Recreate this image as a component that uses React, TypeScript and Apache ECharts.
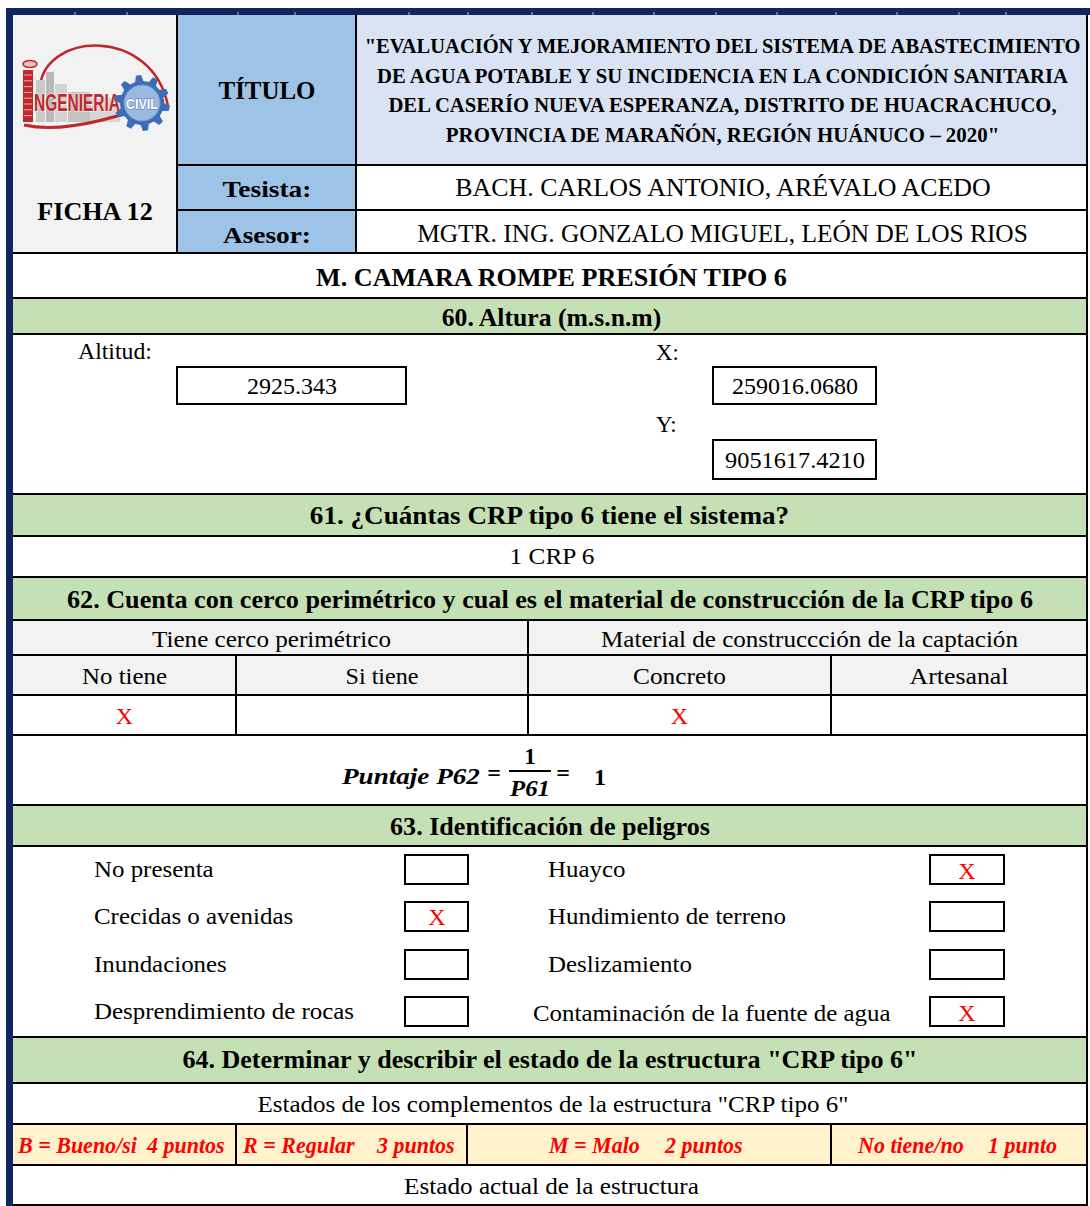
import React, { useEffect, useRef } from "react";
import * as echarts from "echarts";

// ---------- data ----------
const fichaLabel = "FICHA 12";
const headerLabels = ["TÍTULO", "Tesista:", "Asesor:"];
const titleLines = [
  "\"EVALUACIÓN Y MEJORAMIENTO DEL SISTEMA DE ABASTECIMIENTO",
  "DE AGUA POTABLE Y SU INCIDENCIA EN LA CONDICIÓN SANITARIA",
  "DEL CASERÍO NUEVA ESPERANZA, DISTRITO DE HUACRACHUCO,",
  "PROVINCIA DE MARAÑÓN, REGIÓN HUÁNUCO – 2020\"",
];
const thesisAuthor = "BACH. CARLOS ANTONIO, ARÉVALO ACEDO";
const thesisAdvisor = "MGTR. ING. GONZALO MIGUEL, LEÓN DE LOS RIOS";
const sectionTitle = "M. CAMARA ROMPE PRESIÓN TIPO 6";
const questionTitles = [
  "60. Altura (m.s.n.m)",
  "61. ¿Cuántas CRP tipo 6 tiene el sistema?",
  "62. Cuenta con cerco perimétrico y cual es el material de construcción de la CRP tipo 6",
  "63. Identificación de peligros",
  "64. Determinar y describir el estado de la estructura \"CRP tipo 6\"",
];
const coordLabels = ["Altitud:", "X:", "Y:"];
const coordValues = ["2925.343", "259016.0680", "9051617.4210"];
const crpCount = "1 CRP 6";
const groupHeaders = ["Tiene cerco perimétrico", "Material de construccción de la captación"];
const fenceOptions = ["No tiene", "Si tiene"];
const fenceChecked = [true, false];
const materialOptions = ["Concreto", "Artesanal"];
const materialChecked = [true, false];
const scoreFormula = { lhs: "Puntaje P62", num: "1", den: "P61", result: "1" };
const hazardsLeft = ["No presenta", "Crecidas o avenidas", "Inundaciones", "Desprendimiento de rocas"];
const hazardsLeftChecked = [false, true, false, false];
const hazardsRight = ["Huayco", "Hundimiento de terreno", "Deslizamiento", "Contaminación de la fuente de agua"];
const hazardsRightChecked = [true, false, false, true];
const statesCaption = "Estados de los complementos de la estructura \"CRP tipo 6\"";
const scoreLabels = ["B = Bueno/si", "R = Regular", "M = Malo", "No tiene/no"];
const scorePoints = ["4 puntos", "3 puntos", "2 puntos", "1 punto"];
const currentStateCaption = "Estado actual de la estructura";

// ---------- helpers ----------
const W = 1090;
const H = 1206;
const SERIF = "'Liberation Serif', 'Times New Roman', serif";
const NAVY = "#11255f";
const GREEN = "#c5e0b4";
const BLUE = "#9dc3e6";
const PALE = "#dae3f3";
const GRAY = "#f2f2f2";
const YELLOW = "#fff2cc";
const RED = "#ff0000";

let mctx: CanvasRenderingContext2D | null = null;
function measure(text: string, size: number, weight: string, style: string, family: string) {
  if (!mctx) mctx = document.createElement("canvas").getContext("2d");
  mctx!.font = `${style} ${weight} ${size}px ${family}`;
  return mctx!.measureText(text).width;
}

type TOpts = {
  size?: number;
  weight?: string;
  style?: string;
  color?: string;
  align?: string;
  w?: number;
  sx?: number;
  family?: string;
  stroke?: string;
  lw?: number;
};
function T(text: string, x: number, y: number, o: TOpts = {}) {
  const size = o.size ?? 24;
  const weight = o.weight ?? "normal";
  const style = o.style ?? "normal";
  const family = o.family ?? SERIF;
  const align = o.align ?? "center";
  let sx = o.sx ?? 1;
  if (o.w) sx = o.w / measure(text, size, weight, style, family);
  const st: any = {
    text,
    fontSize: size,
    fontWeight: weight,
    fontStyle: style,
    fontFamily: family,
    fill: o.color ?? "#000",
    align,
    verticalAlign: "middle",
    textAlign: align,
    textVerticalAlign: "middle",
  };
  if (o.stroke) {
    st.stroke = o.stroke;
    st.lineWidth = o.lw ?? 1;
  }
  return { type: "text", x, y, scaleX: sx, silent: true, style: st };
}
function R(x: number, y: number, w: number, h: number, fill: string, stroke?: string, lw = 2) {
  return {
    type: "rect",
    silent: true,
    shape: { x, y, width: w, height: h },
    style: { fill, stroke: stroke ?? null, lineWidth: stroke ? lw : 0 },
  };
}
function L(x1: number, y1: number, x2: number, y2: number, lw = 2, color = "#000") {
  return {
    type: "line",
    silent: true,
    shape: { x1, y1, x2, y2 },
    style: { stroke: color, lineWidth: lw },
  };
}

function buildLogo() {
  const els: any[] = [];
  const red = "#c0282d";
  // big swoosh
  els.push({
    type: "bezierCurve",
    silent: true,
    shape: { x1: 40, y1: 86, cpx1: 46, cpy1: 32, cpx2: 152, cpy2: 26, x2: 168, y2: 106 },
    style: { stroke: red, lineWidth: 2.5, fill: null },
  });
  // buildings
  els.push(R(36, 80, 9, 42, "#c9c9c9"));
  els.push(R(46, 72, 8, 50, "#b9b9b9"));
  els.push(R(55, 84, 12, 38, "#d2d2d2"));
  els.push(R(68, 92, 22, 30, "#c4c4c4"));
  els.push(R(90, 98, 30, 24, "#d6d6d6"));
  // tower I
  els.push(R(23, 70, 10, 52, red));
  for (let i = 0; i < 8; i++) els.push(L(24, 75 + i * 5.8, 32, 75 + i * 5.8, 1, "#f2b0b0"));
  els.push({
    type: "ellipse",
    silent: true,
    shape: { cx: 30, cy: 64, rx: 7, ry: 3.5 },
    style: { stroke: red, lineWidth: 1.5, fill: "#e8c0c0" },
  });
  // lower swoosh
  els.push({
    type: "bezierCurve",
    silent: true,
    shape: { x1: 24, y1: 125, cpx1: 60, cpy1: 133, cpx2: 110, cpy2: 121, x2: 164, y2: 100 },
    style: { stroke: red, lineWidth: 3, fill: null },
  });
  // text
  els.push(
    T("NGENIERIA", 34, 103, {
      size: 24,
      weight: "bold",
      align: "left",
      w: 86,
      color: red,
      stroke: "#ffffff",
      lw: 0.8,
      family: "'Liberation Sans Narrow', 'Liberation Sans', sans-serif",
    })
  );
  // gear
  const cx = 142, cy = 103, teeth = 10, ro = 28, ri = 22;
  const pts: number[][] = [];
  for (let i = 0; i < teeth; i++) {
    const a0 = (i / teeth) * Math.PI * 2;
    const step = (Math.PI * 2) / teeth;
    const angs = [a0, a0 + step * 0.15, a0 + step * 0.45, a0 + step * 0.6];
    const rad = [ri, ro, ro, ri];
    angs.forEach((a, k) => pts.push([cx + rad[k] * Math.cos(a), cy + rad[k] * Math.sin(a)]));
  }
  els.push({ type: "polygon", silent: true, shape: { points: pts }, style: { fill: "#3d6db5" } });
  els.push({ type: "circle", silent: true, shape: { cx, cy, r: 18 }, style: { fill: "#9ab8e0", stroke: "#6f95cc", lineWidth: 1 } });
  els.push(
    T("CIVIL", cx, cy + 1, {
      size: 15,
      weight: "bold",
      w: 32,
      color: "#ffffff",
      stroke: "#3d6db5",
      lw: 0.8,
      family: "'Liberation Sans', sans-serif",
    })
  );
  return els;
}

function buildElements() {
  const els: any[] = [];
  const X0 = 13, X1 = 1087;
  // background
  els.push(R(0, 0, W, H, "#ffffff"));
  // cell fills
  els.push(R(X0, 15, 177 - X0, 238, GRAY));
  els.push(R(177, 15, 179, 238, BLUE));
  els.push(R(356, 15, X1 - 356, 150, PALE));
  const greenBands = [[298, 334], [494, 536], [577, 620], [805, 846], [1037, 1083]];
  greenBands.forEach(([a, b]) => els.push(R(X0, a, X1 - X0, b - a, GREEN)));
  els.push(R(X0, 620, X1 - X0, 75, GRAY));
  els.push(R(X0, 1124, X1 - X0, 41, YELLOW));

  // grid lines
  [253, 298, 334, 494, 536, 577, 620, 655, 695, 735, 805, 846, 1037, 1083, 1124, 1165, 1205].forEach((y) =>
    els.push(L(X0, y, X1, y, 2))
  );
  [165, 210].forEach((y) => els.push(L(177, y, X1, y, 2)));
  els.push(L(177, 15, 177, 253, 2));
  els.push(L(356, 15, 356, 253, 2));
  els.push(L(X1, 15, X1, H, 2));
  els.push(L(528, 620, 528, 735, 2));
  els.push(L(236, 655, 236, 735, 2));
  els.push(L(831, 655, 831, 735, 2));
  [236, 467, 831].forEach((x) => els.push(L(x, 1124, x, 1165, 2)));

  // navy frame
  els.push(R(6, 8, W - 6, 7, NAVY));
  els.push(R(6, 8, 7, H - 8, NAVY));
  [75, 127, 238, 295, 409, 468, 532, 593, 654, 716, 777, 836, 897, 959, 1006].forEach((x) =>
    els.push(L(x, 12, x, 15, 1, "#b8c0d8"))
  );

  // logo
  els.push(...buildLogo());

  // header texts
  els.push(T(fichaLabel, 95, 212, { size: 26, weight: "bold", w: 117 }));
  els.push(T(headerLabels[0], 267, 90, { size: 26, weight: "bold", w: 97 }));
  els.push(T(headerLabels[1], 267, 189, { size: 24, weight: "bold", w: 89 }));
  els.push(T(headerLabels[2], 267, 235, { size: 24, weight: "bold", w: 88 }));
  const titleW = [721, 697, 671, 555];
  const titleY = [46, 76, 105, 135];
  titleLines.forEach((t, i) => els.push(T(t, 722.5, titleY[i], { size: 22, weight: "bold", w: titleW[i] })));
  els.push(T(thesisAuthor, 723, 188, { size: 25, w: 540 }));
  els.push(T(thesisAdvisor, 722.5, 234, { size: 25, w: 611 }));

  // section title + questions
  els.push(T(sectionTitle, 551.5, 278, { size: 25, weight: "bold", w: 473 }));
  els.push(T(questionTitles[0], 551.5, 317, { size: 25, weight: "bold", w: 221 }));
  els.push(T(questionTitles[1], 549.5, 516, { size: 25, weight: "bold", w: 481 }));
  els.push(T(questionTitles[2], 550, 600, { size: 25, weight: "bold", w: 968 }));
  els.push(T(questionTitles[3], 550, 827, { size: 25, weight: "bold", w: 320 }));
  els.push(T(questionTitles[4], 550, 1060, { size: 25, weight: "bold", w: 738 }));

  // coordinates
  els.push(T(coordLabels[0], 78, 351, { align: "left", w: 74 }));
  els.push(T(coordLabels[1], 656, 352, { align: "left", sx: 0.95 }));
  els.push(T(coordLabels[2], 656, 424, { align: "left", sx: 0.95 }));
  els.push(R(177, 367, 229, 37, "none", "#000", 2));
  els.push(R(713, 367, 163, 37, "none", "#000", 2));
  els.push(R(713, 440, 163, 39, "none", "#000", 2));
  els.push(T(coordValues[0], 292, 386, { w: 90 }));
  els.push(T(coordValues[1], 795, 386, { w: 126 }));
  els.push(T(coordValues[2], 795, 460, { w: 140 }));

  // 61
  els.push(T(crpCount, 552, 556, { w: 86 }));

  // 62
  els.push(T(groupHeaders[0], 271.5, 639, { w: 239 }));
  els.push(T(groupHeaders[1], 809.5, 639, { w: 417 }));
  const fenceCells = [[X0, 236], [236, 528]];
  const matCells = [[528, 831], [831, X1]];
  const optW = [85, 73, 93, 99];
  fenceOptions.forEach((t, i) => {
    const c = (fenceCells[i][0] + fenceCells[i][1]) / 2;
    els.push(T(t, c, 676, { w: optW[i] }));
    if (fenceChecked[i]) els.push(T("X", c, 716, { size: 24, color: RED }));
  });
  materialOptions.forEach((t, i) => {
    const c = (matCells[i][0] + matCells[i][1]) / 2;
    els.push(T(t, c, 676, { w: optW[2 + i] }));
    if (materialChecked[i]) els.push(T("X", c, 716, { size: 24, color: RED }));
  });

  // formula
  const CM = SERIF;
  els.push(T(scoreFormula.lhs, 342, 776, { size: 23, weight: "bold", style: "italic", align: "left", w: 138, family: CM }));
  els.push(T("=", 494, 773, { size: 24, weight: "bold" }));
  els.push(T(scoreFormula.num, 530, 756, { size: 23, weight: "bold" }));
  els.push(L(509, 771, 551, 771, 2));
  els.push(T(scoreFormula.den, 530, 788, { size: 23, weight: "bold", style: "italic", w: 40, family: CM }));
  els.push(T("=", 563, 773, { size: 24, weight: "bold" }));
  els.push(T(scoreFormula.result, 600, 777, { size: 24, weight: "bold" }));

  // 63 hazards
  const rowY = [869, 916, 964, 1011];
  const hsx = 260 / measure(hazardsLeft[3], 24, "normal", "normal", SERIF);
  hazardsLeft.forEach((t, i) => {
    els.push(T(t, 94, rowY[i], { align: "left", sx: hsx }));
    els.push(R(405, rowY[i] - 14, 63, 29, "none", "#000", 2));
    if (hazardsLeftChecked[i]) els.push(T("X", 437, rowY[i] + 1, { size: 24, color: RED }));
  });
  hazardsRight.forEach((t, i) => {
    const lx = i === 3 ? 533 : 548;
    els.push(T(t, lx, rowY[i] + (i === 3 ? 2 : 0), { align: "left", sx: hsx }));
    els.push(R(930, rowY[i] - 14, 74, 29, "none", "#000", 2));
    if (hazardsRightChecked[i]) els.push(T("X", 967, rowY[i] + 2, { size: 24, color: RED }));
  });

  // 64
  els.push(T(statesCaption, 553, 1104, { w: 592 }));
  const lblStart = [18, 243, 549, 858];
  const ptsStart = [147, 377, 665, 988];
  const ysx = 119 / measure(scoreLabels[0], 24, "bold", "italic", SERIF);
  scoreLabels.forEach((t, i) => {
    els.push(T(t, lblStart[i], 1145, { size: 24, weight: "bold", style: "italic", color: RED, align: "left", sx: ysx }));
    els.push(T(scorePoints[i], ptsStart[i], 1145, { size: 24, weight: "bold", style: "italic", color: RED, align: "left", sx: ysx }));
  });
  els.push(T(currentStateCaption, 551.5, 1186, { w: 295 }));

  return els;
}

export default function App() {
  const ref = useRef<HTMLDivElement>(null);
  useEffect(() => {
    if (!ref.current) return;
    const chart = echarts.init(ref.current, null, { renderer: "svg", width: W, height: H });
    chart.setOption({
      animation: false,
      graphic: { elements: buildElements() },
    });
    return () => chart.dispose();
  }, []);
  return (
    <div
      ref={ref}
      style={{ position: "fixed", left: 0, top: 0, width: W, height: H, background: "#fff" }}
    />
  );
}
